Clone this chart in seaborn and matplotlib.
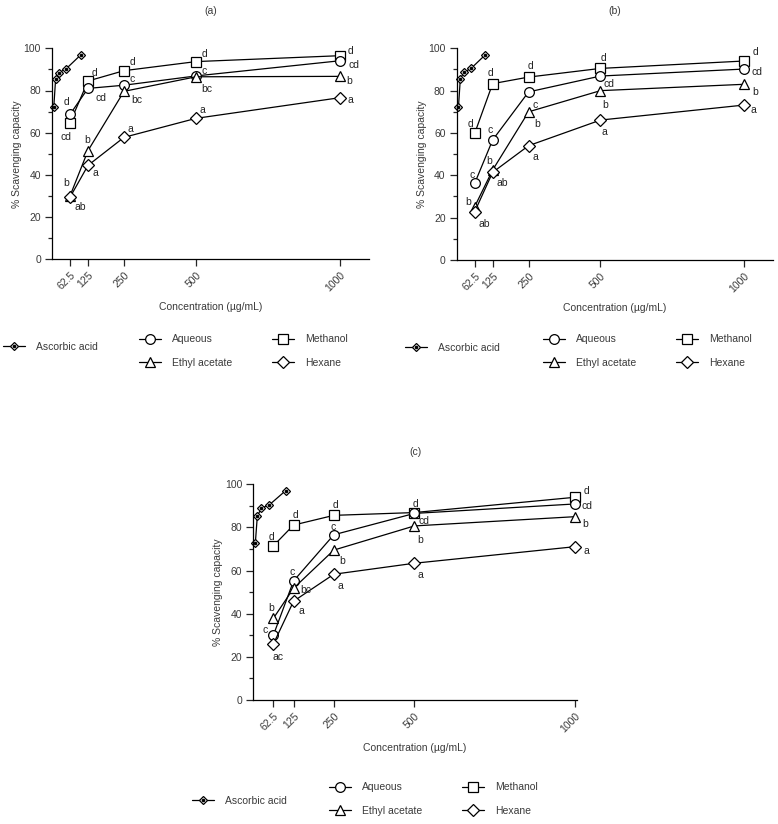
"""DPPH scavenging capacity of extracts, three panels (a), (b), (c)."""

import matplotlib
matplotlib.use("Agg")
import matplotlib.pyplot as plt
from matplotlib.lines import Line2D
from matplotlib.ticker import MultipleLocator
import seaborn as sns

# concentrations (ug/mL)
conc = [62.5, 125, 250, 500, 1000]
asc_conc = [6.25, 12.5, 25, 50, 100]
tick_labels = ["62.5", "125", "250", "500", "1000"]

# panel (a)
asc_a = [72.3, 85.3, 88.5, 90.4, 96.9]
meth_a = [64.7, 84.5, 89.4, 93.7, 96.5]
aq_a = [68.7, 81.0, 82.5, 86.9, 94.1]
ea_a = [30.0, 51.5, 79.6, 86.5, 86.7]
hex_a = [29.4, 44.5, 57.8, 66.8, 76.6]

# panel (b)
asc_b = [72.5, 85.5, 88.7, 90.5, 97.0]
meth_b = [59.8, 83.3, 86.4, 90.5, 94.0]
aq_b = [36.2, 56.7, 79.4, 86.9, 90.2]
ea_b = [25.2, 42.5, 70.0, 80.0, 83.0]
hex_b = [22.8, 41.4, 54.0, 66.1, 73.2]

# panel (c)
asc_c = [72.6, 85.3, 88.9, 90.5, 97.0]
meth_c = [71.5, 81.1, 85.6, 86.9, 94.0]
aq_c = [30.1, 55.2, 76.6, 86.5, 90.9]
ea_c = [37.9, 51.8, 69.5, 80.7, 85.0]
hex_c = [26.0, 45.8, 58.3, 63.4, 71.1]

# significance letters
let_meth_a = ["cd", "d", "d", "d", "d"]
let_aq_a = ["d", "cd", "c", "c", "cd"]
let_ea_a = ["b", "b", "bc", "bc", "b"]
let_hex_a = ["ab", "a", "a", "a", "a"]

let_meth_b = ["d", "d", "d", "d", "d"]
let_aq_b = ["c", "c", "c", "cd", "cd"]
let_ea_b = ["b", "b", "b", "b", "b"]
let_hex_b = ["ab", "ab", "a", "a", "a"]

let_meth_c = ["d", "d", "d", "d", "d"]
let_aq_c = ["c", "c", "c", "cd", "cd"]
let_ea_c = ["b", "bc", "b", "b", "b"]
let_hex_c = ["ac", "a", "a", "a", "a"]

# label offsets in pixels (dx, dy with dy downwards)
off_a = {
    "meth": [(-4, 14), (6, -8), (8, -9), (8, -8), (10, -5)],
    "aq": [(-3, -12), (13, 10), (8, -6), (8, -5), (14, 4)],
    "ea": [(-4, -13), (-1, -11), (13, 9), (11, 12), (9, 5)],
    "hex": [(10, 10), (7, 8), (6, -8), (6, -8), (10, 2)],
}
off_b = {
    "meth": [(-4, -9), (-2, -11), (2, -11), (3, -10), (11, -9)],
    "aq": [(-3, -8), (-3, -10), (7, 13), (9, 8), (13, 3)],
    "ea": [(-7, -5), (-3, -9), (9, 12), (5, 14), (11, 8)],
    "hex": [(10, 12), (10, 11), (7, 11), (4, 12), (9, 5)],
}
off_c = {
    "meth": [(-2, -9), (2, -10), (2, -10), (1, -9), (11, -6)],
    "aq": [(-8, -5), (-1, -9), (-1, -8), (10, 8), (12, 2)],
    "ea": [(-2, -10), (12, 2), (8, 11), (6, 14), (10, 7)],
    "hex": [(5, 13), (8, 10), (7, 12), (6, 12), (11, 4)],
}

sns.set_style("ticks")
plt.rcParams["font.family"] = ["Liberation Sans", "DejaVu Sans"]

W, H = 778, 824
fig = plt.figure(figsize=(W / 100, H / 100), dpi=100)

GREY = "#3a3a3a"
FS = 7.5
MARKERS = {"aq": "o", "meth": "s", "ea": "^", "hex": "D"}
MSIZE = {"aq": 7, "meth": 7, "ea": 7, "hex": 6}
NAMES = {"aq": "Aqueous", "meth": "Methanol", "ea": "Ethyl acetate", "hex": "Hexane"}


def px_axes(left, top, right, bottom):
    return fig.add_axes([left / W, 1 - bottom / H, (right - left) / W, (bottom - top) / H])


def draw_panel(ax, title, asc, series, letters, offsets, xmax, title_pad):
    sns.lineplot(x=asc_conc, y=asc, ax=ax, color="black", linewidth=0.9,
                 marker="D", markersize=4.5, markerfacecolor="white",
                 markeredgecolor="black", markeredgewidth=0.9,
                 errorbar=None, clip_on=False)
    ax.plot(asc_conc, asc, ls="none", marker="o", markersize=1.6,
            color="black", clip_on=False)
    for key, vals in series.items():
        sns.lineplot(x=conc, y=vals, ax=ax, color="black", linewidth=0.9,
                     marker=MARKERS[key], markersize=MSIZE[key],
                     markerfacecolor="white", markeredgecolor="black",
                     markeredgewidth=0.9, errorbar=None, clip_on=False)
        for xv, yv, lab, (dx, dy) in zip(conc, vals, letters[key], offsets[key]):
            ax.annotate(lab, xy=(xv, yv), xytext=(dx, -dy), textcoords="offset pixels",
                        ha="center", va="center", fontsize=FS, color="#222222",
                        annotation_clip=False)

    ax.set_xlim(0, xmax)
    ax.set_ylim(0, 100)
    ax.set_xticks(conc)
    ax.set_xticklabels(tick_labels, rotation=45, ha="right", rotation_mode="anchor")
    ax.set_yticks(range(0, 101, 20))
    ax.yaxis.set_minor_locator(MultipleLocator(10))
    ax.tick_params(axis="both", which="major", length=5, width=0.9,
                   labelsize=FS, labelcolor=GREY, pad=3)
    ax.tick_params(axis="y", which="minor", length=3, width=0.9)
    for s in ("left", "bottom"):
        ax.spines[s].set_linewidth(0.9)
        ax.spines[s].set_color("black")
    sns.despine(ax=ax)
    ax.set_xlabel("Concentration (\u00b5g/mL)", fontsize=FS, color=GREY, labelpad=6)
    ax.set_ylabel("% Scavenging capacity", fontsize=FS, color=GREY, labelpad=1)
    ax.set_title(title, fontsize=FS, color=GREY, pad=title_pad)


def add_legends(asc_xy, rest_xy):
    asc_handle = (
        Line2D([], [], color="black", lw=0.9, marker="D", markersize=4.5,
               markerfacecolor="white", markeredgecolor="black", markeredgewidth=0.9),
        Line2D([], [], ls="none", marker="o", markersize=1.6, color="black"),
    )
    fig.legend([asc_handle], ["Ascorbic acid"], loc="center left",
               bbox_to_anchor=(asc_xy[0] / W, 1 - asc_xy[1] / H), frameon=False,
               fontsize=FS, labelcolor=GREY, handlelength=2.1, handletextpad=1.1,
               borderpad=0, borderaxespad=0)
    order = ["aq", "ea", "meth", "hex"]
    handles = [Line2D([], [], color="black", lw=0.9, marker=MARKERS[k],
                      markersize=MSIZE[k], markerfacecolor="white",
                      markeredgecolor="black", markeredgewidth=0.9) for k in order]
    fig.legend(handles, [NAMES[k] for k in order], ncol=2, loc="center left",
               bbox_to_anchor=(rest_xy[0] / W, 1 - rest_xy[1] / H), frameon=False,
               fontsize=FS, labelcolor=GREY, handlelength=2.1, handletextpad=1.1,
               columnspacing=3.8, labelspacing=1.3, borderpad=0, borderaxespad=0)


ax_a = px_axes(52, 48.3, 368.8, 259.3)
draw_panel(ax_a, "(a)", asc_a,
           {"meth": meth_a, "aq": aq_a, "ea": ea_a, "hex": hex_a},
           {"meth": let_meth_a, "aq": let_aq_a, "ea": let_ea_a, "hex": let_hex_a},
           off_a, 1100, 25)

ax_b = px_axes(456.7, 48.3, 773, 260)
draw_panel(ax_b, "(b)", asc_b,
           {"meth": meth_b, "aq": aq_b, "ea": ea_b, "hex": hex_b},
           {"meth": let_meth_b, "aq": let_aq_b, "ea": let_ea_b, "hex": let_hex_b},
           off_b, 1100, 25)

ax_c = px_axes(253.3, 484.3, 577, 700)
draw_panel(ax_c, "(c)", asc_c,
           {"meth": meth_c, "aq": aq_c, "ea": ea_c, "hex": hex_c},
           {"meth": let_meth_c, "aq": let_aq_c, "ea": let_ea_c, "hex": let_hex_c},
           off_c, 1005, 21)

add_legends((3, 347), (139, 351))
add_legends((405, 348), (543, 351))
add_legends((192, 801), (329, 799))

fig.savefig("out.png", dpi=100)
